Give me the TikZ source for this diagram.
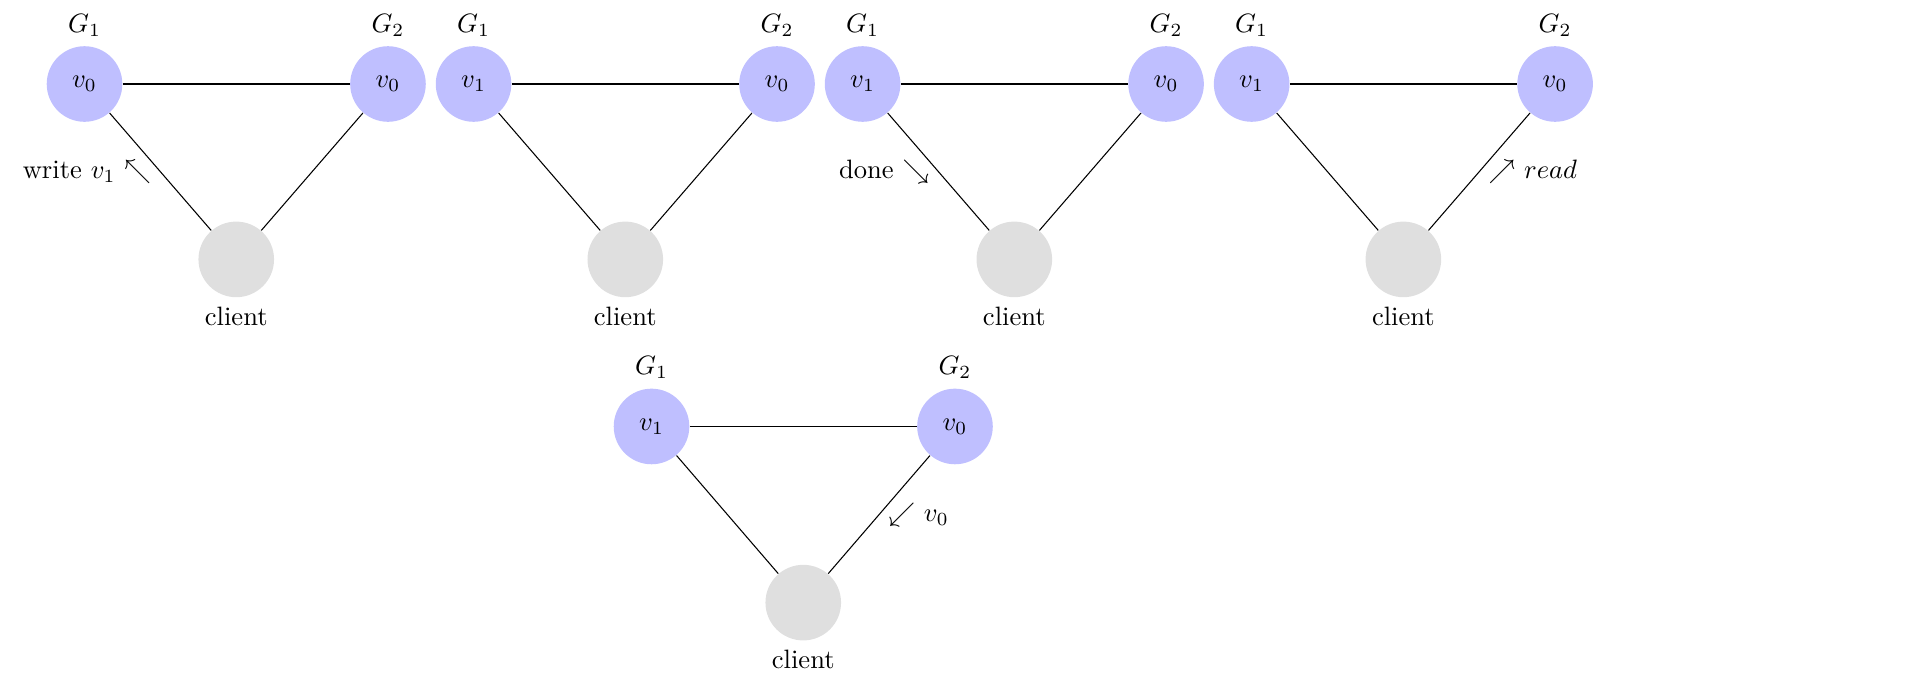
\documentclass[tikz,border=0pt]{standalone}
\usetikzlibrary{calc,positioning}
\usepackage{amsmath, amssymb}
\definecolor{replikblau}{RGB}{191,191,255}
\definecolor{kundengrau}{RGB}{223,223,223}

\begin{document}
\begin{tikzpicture}[node distance=3cm, every node/.style={font=\normalsize},
    replik/.style={circle, fill=replikblau, minimum size=1cm, inner sep=0pt},
    kunde/.style={circle, fill=kundengrau, minimum size=1cm, inner sep=0pt, label=below:client}]
    \useasboundingbox (-1.118,1.111) rectangle (24.226,-7.884);
    % Schreiben
    \node[replik, label=above:$G_1$] (a1) at (0,0) {$v_0$};
    \node[replik, label=above:$G_2$, right=of a1] (a2) {$v_0$};
    \node[kunde] (ak) at ($(a1)!0.5!(a2)+(0,-2.32)$) {};
    \draw (a1) -- (a2);
    \draw (a1) -- node[left] {write $v_1$ $\nwarrow$} (ak);
    \draw (a2) -- (ak);
    % G1 hat v1
    \node[replik, label=above:$G_1$] (b1) at (5.146,0) {$v_1$};
    \node[replik, label=above:$G_2$, right=of b1] (b2) {$v_0$};
    \node[kunde] (bk) at ($(b1)!0.5!(b2)+(0,-2.32)$) {};
    \draw (b1) -- (b2);
    \draw (b1) -- (bk);
    \draw (b2) -- (bk);
    % Fertig
    \node[replik, label=above:$G_1$] (c1) at (10.292,0) {$v_1$};
    \node[replik, label=above:$G_2$, right=of c1] (c2) {$v_0$};
    \node[kunde] (ck) at ($(c1)!0.5!(c2)+(0,-2.32)$) {};
    \draw (c1) -- (c2);
    \draw (c1) -- node[left] {done $\searrow$} (ck);
    \draw (c2) -- (ck);
    % Lesen
    \node[replik, label=above:$G_1$] (d1) at (15.438,0) {$v_1$};
    \node[replik, label=above:$G_2$, right=of d1] (d2) {$v_0$};
    \node[kunde] (dk) at ($(d1)!0.5!(d2)+(0,-2.32)$) {};
    \draw (d1) -- (d2);
    \draw (d1) -- (dk);
    \draw (d2) -- node[right] {$\nearrow$ $read$} (dk);
    % Antwort
    \node[replik, label=above:$G_1$] (e1) at (7.5,-4.53) {$v_1$};
    \node[replik, label=above:$G_2$, right=of e1] (e2) {$v_0$};
    \node[kunde] (ek) at ($(e1)!0.5!(e2)+(0,-2.33)$) {};
    \draw (e1) -- (e2);
    \draw (e1) -- (ek);
    \draw (e2) -- node[right] {$\swarrow$ $v_0$} (ek);
\end{tikzpicture}
\end{document}
